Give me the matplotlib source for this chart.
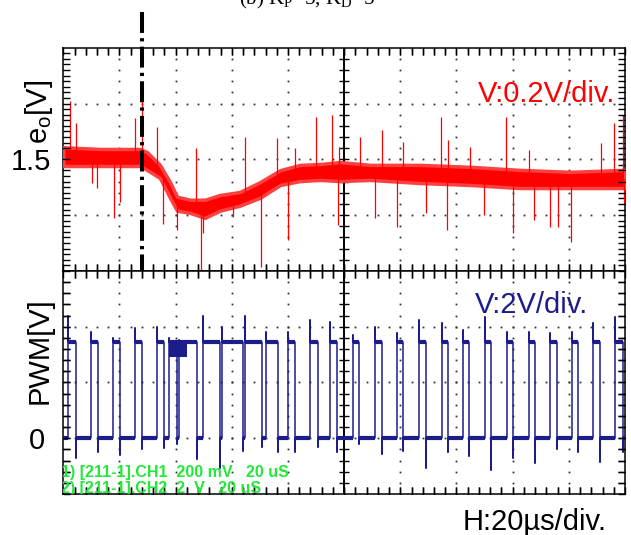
# plot.py
# Scope capture: output voltage e_o (top) and PWM gate signal (bottom), Kp=5, Kd=5.

import numpy as np
import matplotlib
matplotlib.use('Agg')
import matplotlib.pyplot as plt
from matplotlib.ticker import MultipleLocator

plt.rcParams['font.family'] = ['Liberation Sans', 'DejaVu Sans']
plt.rcParams['mathtext.default'] = 'regular'

# time axis: 20 us/div, 10 div
t_end = 200.0
t_mark = 27.9  # dash-dot marker

# e_o noise band (upper / lower edge), volts
eo_t = [0, 13.1, 27.3, 29.8, 34.4, 38.0, 40.5, 45.1, 50.4, 55.8, 62.9, 70.0,
        77.2, 84.3, 91.4, 98.5, 109.2, 127.0, 144.8, 162.6, 180.4, 200.0]
eo_hi = [1.543, 1.537, 1.537, 1.526, 1.480, 1.418, 1.366, 1.355, 1.355, 1.372, 1.383, 1.418,
         1.461, 1.480, 1.483, 1.490, 1.480, 1.480, 1.473, 1.462, 1.455, 1.462]
eo_lo = [1.476, 1.476, 1.476, 1.462, 1.433, 1.362, 1.316, 1.308, 1.290, 1.316, 1.334, 1.362,
         1.408, 1.422, 1.426, 1.422, 1.426, 1.415, 1.408, 1.397, 1.397, 1.397]

# e_o spikes
spike_t = [2.4, 4.6, 10.2, 12.0, 18.1, 20.2, 25.5, 27.9, 33.4, 35.5, 40.5, 47.2, 49.0, 49.7,
           60.4, 64.7, 70.4, 76.1, 80.0, 82.5, 90.0, 95.6, 97.8, 98.2, 105.6, 111.0, 113.4,
           118.8, 121.0, 129.2, 134.4, 136.6, 137.0, 144.8, 149.8, 157.5, 160.1, 165.8,
           167.6, 173.3, 176.1, 180.8, 191.5, 196.1, 199.3, 199.5]
spike_v = [1.709, 1.630, 1.415, 1.397, 1.290, 1.347, 1.648, 1.723, 1.616, 1.268, 1.247, 1.540,
           1.103, 1.236, 1.293, 1.580, 1.114, 1.576, 1.211, 1.540, 1.652, 1.659, 1.265, 1.544,
           1.580, 1.290, 1.605, 1.257, 1.562, 1.308, 1.652, 1.247, 1.569, 1.544, 1.300, 1.652,
           1.236, 1.533, 1.282, 1.257, 1.257, 1.204, 1.558, 1.630, 1.659, 1.343]

# PWM edges (us) and overshoot / undershoot (V)
pwm_rise = [1.8, 9.9, 17.8, 25.5, 33.5, 37.6, 41.2, 49.7, 56.4, 64.7, 72.2, 80.0, 87.8, 95.0,
            103.3, 111.0, 118.9, 126.6, 134.7, 142.2, 150.0, 157.9, 165.8, 173.3, 181.0,
            188.7, 196.4]
pwm_fall = [4.4, 12.3, 20.2, 28.1, 35.9, 40.6, 47.6, 55.8, 64.0, 70.8, 76.5, 82.5, 90.7, 97.5,
            105.4, 113.4, 121.1, 129.1, 137.1, 144.5, 152.2, 160.2, 168.0, 175.7, 183.4,
            191.1, 199.3]
pwm_peak = [4.4, 3.8, 3.6, 3.95, 4.0, 3.6, 3.52, 4.4, 4.0, 4.4, 3.8, 3.8, 4.25, 4.17,
            3.7, 4.0, 3.78, 4.25, 4.13, 3.88, 4.35, 3.82, 3.82, 3.78, 3.82, 4.13, 4.35]
pwm_dip = [-0.7, -0.5, -0.6, -0.4, -0.35, -0.2, -0.75, -1.05, -0.45, -0.3, -0.5, -0.5, -0.3,
           -0.5, -0.2, -0.55, -0.45, -1.05, -0.5, -0.65, -1.15, -0.7, -0.9, -0.4, -0.5,
           -0.85, -0.5]
pwm_high = 3.45
burst_t = [37.6, 44.0]
burst_v = [2.92, 3.52]

red = '#ff0000'
navy = '#1c1c8a'
green = '#22e83a'

fig = plt.figure(figsize=(6.31, 5.35), dpi=100)
ax1 = fig.add_axes([0.1003, 0.4937, 0.8902, 0.4171])
ax2 = fig.add_axes([0.1003, 0.0766, 0.8902, 0.4171])

# ---- top: e_o
ax1.fill_between(eo_t, eo_lo, eo_hi, facecolor=red, edgecolor='#ff4040', lw=2.5, zorder=3)
base = np.interp(spike_t, eo_t, (np.array(eo_hi) + np.array(eo_lo)) / 2)
ax1.vlines(spike_t, base, spike_v, color=red, lw=0.9, zorder=3)
ax1.set_ylim(1.1, 1.9)

# ---- bottom: PWM
px, py = [0.0], [0.0]
for r, f, pk, dp in zip(pwm_rise, pwm_fall, pwm_peak, pwm_dip):
    px += [r, r, r, f, f, f]
    py += [0, pk, pwm_high, pwm_high, dp, 0]
px.append(t_end)
py.append(0)
low_start = [0.0] + pwm_fall
low_end = pwm_rise + [t_end]
ax2.plot(px, py, color=navy, lw=1.1, zorder=3)
ax2.hlines(np.full(len(pwm_rise), pwm_high), pwm_rise, pwm_fall, color=navy, lw=3.0, zorder=3)
ax2.hlines(np.zeros(len(low_start)), low_start, low_end, color=navy, lw=3.0, zorder=3)
ax2.fill_between(burst_t, burst_v[0], burst_v[1], color=navy, lw=0, zorder=3)
ax2.set_ylim(-2, 6)

# ---- scope graticule
for ax, ydiv in ((ax1, 0.2), (ax2, 2.0)):
    lo, hi = ax.get_ylim()
    ax.set_xlim(0, t_end)
    ax.xaxis.set_major_locator(MultipleLocator(20))
    ax.xaxis.set_minor_locator(MultipleLocator(4))
    ax.yaxis.set_minor_locator(MultipleLocator(ydiv / 5))
    ax.tick_params(which='both', direction='in', length=5, width=1.0, top=True, right=True,
                   labelbottom=False, labelsize=21)
    for s in ax.spines.values():
        s.set_linewidth(1.1)
    xmin = np.arange(4, t_end, 4)
    ymin = np.arange(lo + ydiv / 5, hi - 1e-9, ydiv / 5)
    for gx in np.arange(20, t_end, 20):
        if gx != 100:
            ax.plot(np.full(len(ymin), gx), ymin, ls='none', marker='s', ms=1.3,
                    color='#333333', mew=0, zorder=1)
    for gy in np.arange(lo + ydiv, hi - 1e-9, ydiv):
        ax.plot(xmin, np.full(len(xmin), gy), ls='none', marker='s', ms=1.3,
                color='#333333', mew=0, zorder=1)
    # tick combs on the frame (half of each marker is clipped away)
    for edge in (lo, hi):
        ax.plot(xmin, np.full(len(xmin), edge), ls='none', marker='|', ms=10, mew=1.0,
                color='black', zorder=4)
    for edge in (0, t_end):
        ax.plot(np.full(len(ymin), edge), ymin, ls='none', marker='_', ms=10, mew=1.0,
                color='black', zorder=4)
    # center vertical line with ticks
    ax.axvline(100, color='black', lw=1.4, zorder=2)
    ax.plot(np.full(len(ymin), 100), ymin, ls='none', marker='_', ms=7, mew=1.0,
            color='black', zorder=2)

ax1.set_yticks([1.5])
ax1.set_yticklabels(['1.5'])
ax1.tick_params(axis='y', which='major', pad=9)
ax2.set_yticks([0])
ax2.set_yticklabels(['0'])
ax2.tick_params(axis='y', which='major', pad=13)

# dash-dot time marker through both panes
ax1.plot([t_mark, t_mark], [1.16, -1.0], transform=ax1.get_xaxis_transform(),
         color='black', lw=2.9, ls=(0, (5.2, 1.3, 0.8, 1.3)), clip_on=False, zorder=6)

# scope readout
ax2.text(-0.004, 0.076, '1) [211-1].CH1  200 mV   20 uS', transform=ax2.transAxes,
         color=green, fontsize=11.5, fontweight='bold', va='baseline', clip_on=True, zorder=4)
ax2.text(-0.004, 0.004, '2) [211-1].CH2  2  V   20 uS', transform=ax2.transAxes,
         color=green, fontsize=11.5, fontweight='bold', va='baseline', clip_on=True, zorder=4)

fig.text(0.062, 0.7907, '$e_o$[V]', rotation=90, ha='center', va='center', fontsize=21)
fig.text(0.063, 0.344, 'PWM[V]', rotation=90, ha='center', va='center', fontsize=21)
fig.text(0.9746, 0.8093, 'V:0.2V/div.', color=red, ha='right', va='baseline', fontsize=21)
fig.text(0.9319, 0.415, 'V:2V/div.', color=navy, ha='right', va='baseline', fontsize=21)
fig.text(0.962, 0.0093, 'H:20\u00b5s/div.', ha='right', va='baseline', fontsize=21)
fig.text(0.487, 0.9907, '(b) $K_P$=5, $K_D$=5', ha='center', va='baseline', fontsize=15,
         family='Liberation Serif')

fig.savefig('out.png', dpi=100)
